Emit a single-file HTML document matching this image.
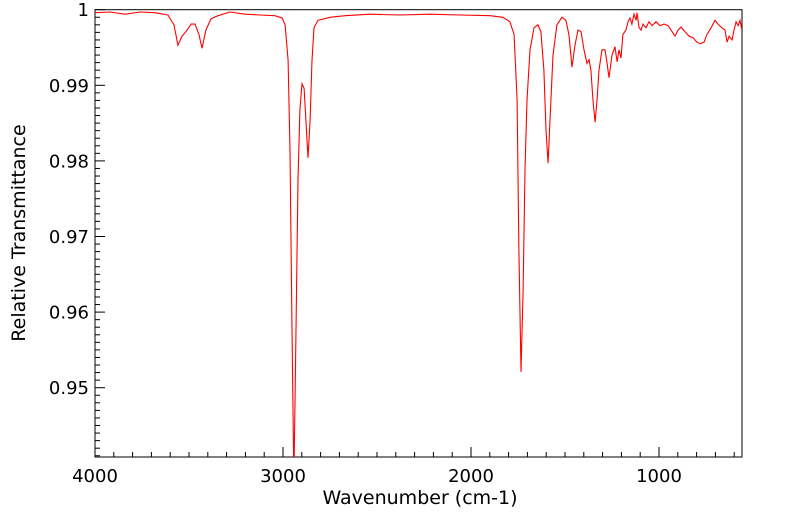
<!DOCTYPE html>
<html><head><meta charset="utf-8"><style>
html,body{margin:0;padding:0;background:#fff;}
svg{display:block;font-family:"DejaVu Sans","Liberation Sans",sans-serif;}
</style></head><body>
<svg id="chart" width="799" height="516" viewBox="0 0 799 516" xmlns="http://www.w3.org/2000/svg">
<defs><clipPath id="plotclip"><rect x="95" y="9.7" width="647" height="447.3"/></clipPath></defs>
<rect x="95" y="9.7" width="647" height="447.3" fill="#fff" stroke="#000" stroke-width="1"/>
<g id="ticks"></g>
<g id="series" clip-path="url(#plotclip)"></g>
<text x="420" y="504" font-size="19" text-anchor="middle">Wavenumber (cm-1)</text>
<text transform="translate(25,233) rotate(-90)" font-size="19" text-anchor="middle">Relative Transmittance</text>
</svg>
<script>
const wavenumbers=[4000,3920,3840,3761,3681,3612,3580,3559,3537,3516,3489,3468,3447,3431,3410,3383,3346,3282,3202,3122,3043,3005,2989,2973,2963,2952,2942,2931,2920,2910,2899,2888,2878,2867,2856,2846,2835,2814,2750,2670,2537,2378,2218,2059,1899,1830,1793,1771,1755,1745,1734,1723,1713,1702,1686,1665,1644,1628,1612,1601,1590,1580,1564,1543,1516,1495,1479,1463,1447,1431,1415,1399,1383,1372,1362,1351,1340,1330,1319,1303,1287,1277,1266,1250,1234,1223,1213,1202,1192,1176,1165,1154,1144,1133,1122,1117,1106,1096,1085,1069,1053,1037,1016,995,973,952,931,915,899,883,862,840,819,798,782,760,745,723,702,686,665,649,638,627,611,601,590,579,569,559];
const transmittance=[0.9996,0.9997,0.9994,0.9997,0.9996,0.9993,0.9980,0.9953,0.9965,0.9971,0.9981,0.9981,0.9967,0.9949,0.9973,0.9988,0.9992,0.9997,0.9994,0.9993,0.9992,0.9989,0.9980,0.9933,0.9814,0.9576,0.9378,0.9576,0.9775,0.9867,0.9902,0.9896,0.9854,0.9804,0.9854,0.9933,0.9976,0.9986,0.9990,0.9992,0.9994,0.9993,0.9994,0.9993,0.9992,0.9990,0.9984,0.9967,0.9880,0.9682,0.9521,0.9629,0.9788,0.9880,0.9947,0.9976,0.9980,0.9971,0.9920,0.9841,0.9797,0.9854,0.9940,0.9980,0.9990,0.9986,0.9967,0.9924,0.9953,0.9973,0.9971,0.9947,0.9929,0.9934,0.9920,0.9880,0.9851,0.9880,0.9920,0.9947,0.9947,0.9931,0.9910,0.9940,0.9951,0.9931,0.9947,0.9936,0.9967,0.9973,0.9984,0.9989,0.9981,0.9994,0.9986,0.9996,0.9976,0.9973,0.9981,0.9976,0.9984,0.9979,0.9984,0.9979,0.9981,0.9979,0.9971,0.9965,0.9973,0.9977,0.9971,0.9965,0.9963,0.9957,0.9955,0.9957,0.9967,0.9976,0.9986,0.9981,0.9976,0.9973,0.9957,0.9965,0.9960,0.9973,0.9984,0.9979,0.9986,0.9973];
const xTickLabels=[4000,3000,2000,1000];
const yTickLabels=[1,0.99,0.98,0.97,0.96,0.95];
const NS="http://www.w3.org/2000/svg";
function xS(w){return 95+(4000-w)*0.188;}
function yS(v){return 9.7+(1-v)*7560;}
const tg=document.getElementById('ticks');
function line(x1,y1,x2,y2){const l=document.createElementNS(NS,'line');l.setAttribute('x1',x1);l.setAttribute('y1',y1);l.setAttribute('x2',x2);l.setAttribute('y2',y2);l.setAttribute('stroke','#000');l.setAttribute('stroke-width','1');tg.appendChild(l);return l;}
for(let w=4000;w>=560;w-=100){
  const x=xS(w);const major=(w%1000===0);
  const t=line(x,457,x,457-(major?10:5));
  
  
}
for(let i=0;i<=59;i++){
  const v=1-i*0.001;const y=yS(v);if(y>457)break;
  const major=(i%10===0);
  const t=line(95,y,95+(major?10:5),y);
  
  
}
xTickLabels.forEach(w=>{
  const t=document.createElementNS(NS,'text');
  t.setAttribute('x',xS(w));t.setAttribute('y',482);t.setAttribute('font-size','18');t.setAttribute('text-anchor','middle');
  t.textContent=String(w);
  
  
  tg.appendChild(t);
});
yTickLabels.forEach(v=>{
  const t=document.createElementNS(NS,'text');
  t.setAttribute('x',89);t.setAttribute('y',yS(v)+6.5);t.setAttribute('font-size','18');t.setAttribute('text-anchor','end');
  t.textContent=(v===1)?'1':v.toFixed(2);
  
  
  tg.appendChild(t);
});
const p=document.createElementNS(NS,'polyline');
p.setAttribute('points',wavenumbers.map((w,i)=>xS(w).toFixed(1)+','+yS(transmittance[i]).toFixed(1)).join(' '));
p.setAttribute('fill','none');p.setAttribute('stroke','#ff0000');p.setAttribute('stroke-width','1.1');


document.getElementById('series').appendChild(p);
</script>
</body></html>
